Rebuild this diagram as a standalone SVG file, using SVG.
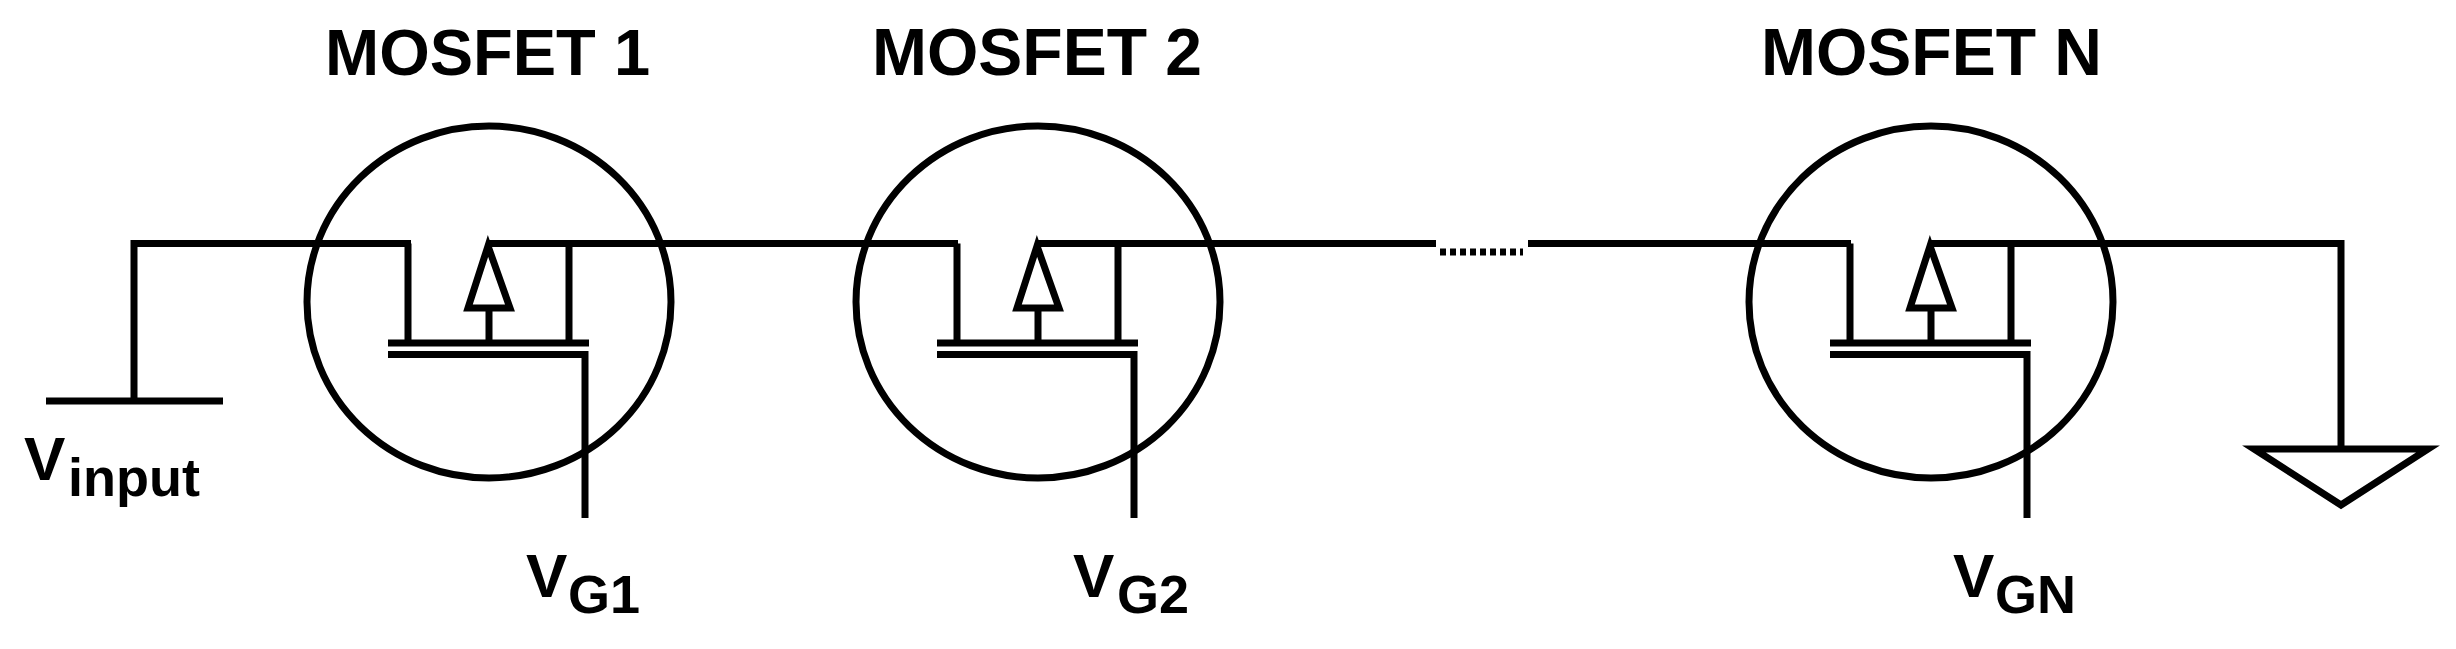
<svg xmlns="http://www.w3.org/2000/svg" width="2456" height="649" viewBox="0 0 2456 649">
<style>
.w{fill:none;stroke:#000;stroke-width:7;stroke-linecap:butt;stroke-linejoin:miter}
.t{font-family:"Liberation Sans",Arial,sans-serif;font-weight:bold;fill:#000}
.h{font-size:66px}.v{font-size:62px}.s{font-size:54px}
</style>
<defs>
<g id="fet">
<ellipse class="w" cx="489" cy="302" rx="182" ry="176"/>
<path class="w" d="M388 343H589M388 354.500H588M408 243.500V343M569 243.500V343M489 308V343"/>
<polygon class="w" points="488,246 468,308 510,308"/>
<path class="w" d="M585 351V518"/>
</g>
</defs>
<rect width="2456" height="649" fill="#fff"/>
<g id="connectors">
<path class="w" d="M134 402V243.500H411"/>
<path class="w" d="M489 243.500H958"/>
<path class="w" d="M1038 243.500H1436"/>
<path class="w" d="M1440 252H1523" stroke-dasharray="6 4"/>
<path class="w" d="M1528 243.500H1851"/>
<path class="w" d="M1931 243.500H2341V449"/>
</g>
<g id="vinput">
<path class="w" d="M46 401H223"/>
<text class="t v" x="24" y="480">V</text><text class="t s" x="68" y="496">input</text>
</g>
<g id="mosfet1">
<use href="#fet"/>
<text class="t h" x="325" y="75" style="font-size:65px">MOSFET 1</text>
<text class="t v" x="526" y="597">V</text><text class="t s" x="568" y="613">G1</text>
</g>
<g id="mosfet2">
<use href="#fet" transform="translate(549 0)"/>
<text class="t h" x="872" y="75">MOSFET 2</text>
<text class="t v" x="1073" y="597">V</text><text class="t s" x="1117" y="613">G2</text>
</g>
<g id="mosfetN">
<use href="#fet" transform="translate(1442 0)"/>
<text class="t h" x="1761" y="75">MOSFET N</text>
<text class="t v" x="1953" y="597">V</text><text class="t s" x="1995" y="613">GN</text>
</g>
<g id="ground">
<polygon class="w" points="2254,449 2428,449 2341,505"/>
</g>
</svg>
